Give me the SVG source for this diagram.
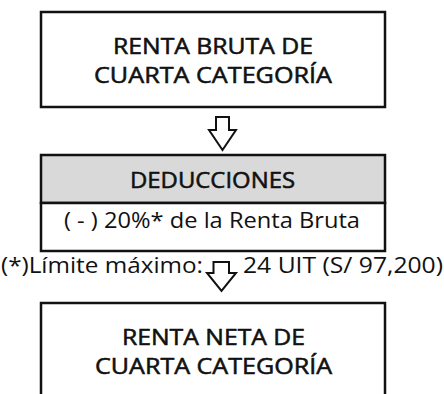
<svg xmlns="http://www.w3.org/2000/svg" width="444" height="394" viewBox="0 0 444 394">
<style>
.box{fill:#fff;stroke:#111;stroke-width:2.5}
.hdr{fill:#d9d9d9;stroke:#111;stroke-width:2.5}
.t{font-family:"Open Sans","DejaVu Sans",sans-serif;font-size:22px;font-weight:400;fill:#111;stroke:#111;stroke-width:0.55;text-anchor:middle}
.b{font-family:"Open Sans","DejaVu Sans",sans-serif;font-size:21.5px;font-weight:400;fill:#111}
.arr{fill:#fff;stroke:#111;stroke-width:2;stroke-linejoin:miter}
</style>
<rect width="444" height="394" fill="#fff"/>
<g id="bruta">
<rect class="box" x="41" y="12" width="344" height="95"/>
<text class="t" x="213" y="54" textLength="200" lengthAdjust="spacingAndGlyphs">RENTA BRUTA DE</text>
<text class="t" x="213" y="83" textLength="238" lengthAdjust="spacingAndGlyphs">CUARTA CATEGORÍA</text>
</g>
<g id="deducciones">
<rect class="hdr" x="41" y="155" width="344" height="48"/>
<text class="t" x="212.5" y="188" textLength="165" lengthAdjust="spacingAndGlyphs">DEDUCCIONES</text>
<rect class="box" x="41" y="203" width="344" height="48"/>
<text class="b" x="64" y="228" textLength="296" lengthAdjust="spacingAndGlyphs">( - ) 20%* de la Renta Bruta</text>
</g>
<g id="nota">
<text class="b" x="1" y="273" textLength="202" lengthAdjust="spacingAndGlyphs">(*)Límite máximo:</text>
<text class="b" x="243" y="273" textLength="200" lengthAdjust="spacingAndGlyphs">24 UIT (S/ 97,200)</text>
</g>
<g id="neta">
<rect class="box" x="41" y="303" width="344" height="100"/>
<text class="t" x="213.5" y="345" textLength="183" lengthAdjust="spacingAndGlyphs">RENTA NETA DE</text>
<text class="t" x="213.5" y="374" textLength="237" lengthAdjust="spacingAndGlyphs">CUARTA CATEGORÍA</text>
</g>
<g id="connectors">
<path class="arr" d="M216,117 H229 V130 H236 L222.5,150 L209,130 H216 Z"/>
<path class="arr" d="M213.5,262 H229 V273 H236 L221.5,291 L207,273 H213.5 Z"/>
</g>
</svg>
